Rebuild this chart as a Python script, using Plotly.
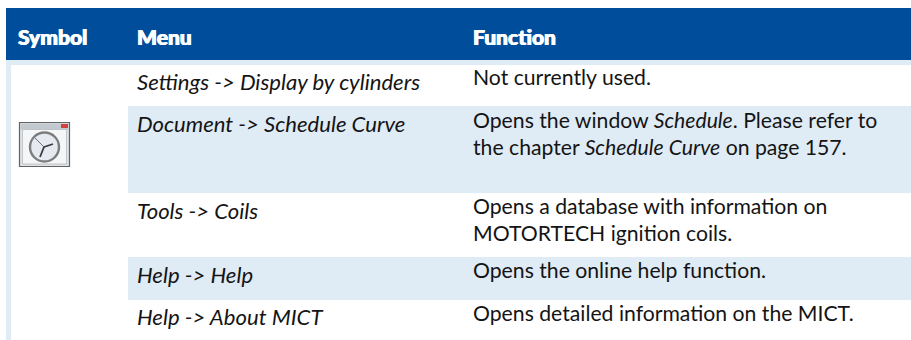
import plotly.graph_objects as go

# ---- content
headers = ["Symbol", "Menu", "Function"]
menu_items = [
    "Settings -> Display by cylinders",
    "Document -> Schedule Curve",
    "Tools -> Coils",
    "Help -> Help",
    "Help -> About MICT",
]
function_lines = [
    ["Not currently used."],
    ["Opens the window <i>Schedule</i>. Please refer to",
     "the chapter <i>Schedule Curve</i> on page 157."],
    ["Opens a database with information on",
     "MOTORTECH ignition coils."],
    ["Opens the online help function."],
    ["Opens detailed information on the MICT."],
]

# ---- layout (pixels)
W, H = 911, 340
col_x = [17, 136, 472]
row_edges = [65, 106, 193, 257, 300, 340]
menu_y = [81, 123, 210, 274, 316]
func_y = [[77], [120, 147], [206, 233], [270], [313]]
BLUE, PALE = "#004e9b", "#dfebf5"
FONT = "Lato"
INK = "#141414"

shapes = []
def rect(x0, y0, x1, y1, fill, line=None, w=0):
    shapes.append(dict(type="rect", x0=x0, y0=y0, x1=x1, y1=y1, xref="x", yref="y",
                       fillcolor=fill, line=dict(color=line or fill, width=w), layer="below"))

rect(6, 60, W, 65, PALE)
rect(6, 60, 11, H, PALE)
rect(6, 8, W, 60, BLUE)
for i in (1, 3):
    rect(128, row_edges[i], W, row_edges[i + 1], PALE)

# window-clock icon
rect(19.5, 122.5, 69.5, 166.5, "#dfe3e6", "#5f6366", 1.2)
rect(20.5, 123.5, 68.5, 129.5, "#c3cacf")
rect(61, 124, 68, 128, "#d2413c")
rect(22.5, 129.5, 66.5, 164, "#f5f6f7", "#a5a9ac", 0.6)
shapes.append(dict(type="circle", x0=30, y0=132.5, x1=59, y1=161.5, xref="x", yref="y",
                   fillcolor="#e6e9f0", line=dict(color="#7c7d7e", width=2.4)))
for (x1, y1, w) in [(53, 144, 1.8), (40, 157, 1.8), (35, 138, 0.7)]:
    shapes.append(dict(type="line", x0=44, y0=147, x1=x1, y1=y1, xref="x", yref="y",
                       line=dict(color="#3a3d40", width=w)))

annotations = []
def label(x, y, text, size=21.2, color=INK, weight=None, shadow=None):
    font = dict(family=FONT, size=size, color=color)
    if weight:
        font["weight"] = weight
    if shadow:
        font["shadow"] = shadow
    annotations.append(dict(x=x, y=y, xref="x", yref="y", text=text, showarrow=False,
                            xanchor="left", yanchor="middle", align="left", font=font, borderpad=0))

for x, t in zip(col_x, headers):
    label(x, 36, t, size=21, color="white", weight=900, shadow="0.5px 0 0 white, -0.5px 0 0 white")
for y, t in zip(menu_y, menu_items):
    label(col_x[1], y, f"<i>{t}</i>", size=22.1)
for ys, lines in zip(func_y, function_lines):
    for y, t in zip(ys, lines):
        label(col_x[2], y, t)

fig = go.Figure()
fig.update_layout(
    width=W, height=H, margin=dict(l=0, r=0, t=0, b=0),
    paper_bgcolor="white", plot_bgcolor="white", showlegend=False,
    xaxis=dict(range=[0, W], visible=False, fixedrange=True),
    yaxis=dict(range=[H, 0], visible=False, fixedrange=True),
    shapes=shapes, annotations=annotations,
)
fig.write_html("out.html", config={"displayModeBar": False},
               post_script="document.body.style.margin='0';document.body.style.overflow='hidden';")
